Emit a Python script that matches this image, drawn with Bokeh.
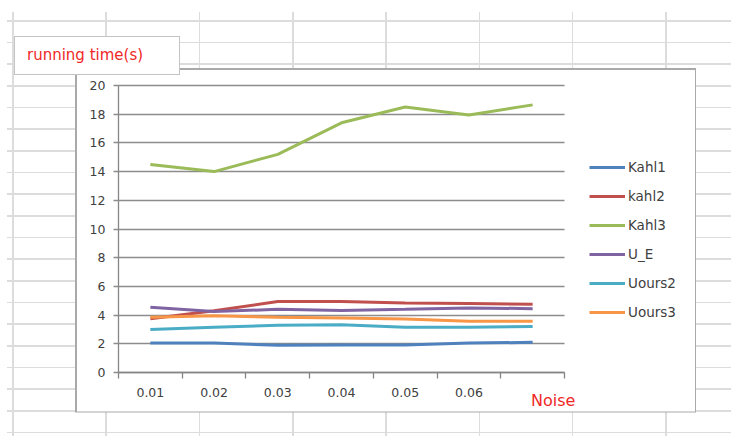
from bokeh.plotting import figure
from bokeh.models import Range1d, FixedTicker, LinearAxis, Legend, LegendItem
from bokeh.embed import file_html
from bokeh.resources import INLINE

# ---------------- data ----------------
noise_labels = ["0.01", "0.02", "0.03", "0.04", "0.05", "0.06"]
x_idx = [0, 1, 2, 3, 4, 5, 6]
kahl1 = [2.05, 2.05, 1.9, 1.92, 1.92, 2.05, 2.1]
kahl2 = [3.75, 4.3, 4.95, 4.95, 4.85, 4.8, 4.75]
kahl3 = [14.5, 14.0, 15.2, 17.4, 18.5, 17.95, 18.65]
u_e = [4.55, 4.25, 4.4, 4.32, 4.4, 4.5, 4.45]
uours2 = [3.0, 3.15, 3.3, 3.32, 3.16, 3.16, 3.2]
uours3 = [3.85, 3.95, 3.85, 3.8, 3.72, 3.58, 3.58]
series_names = ["Kahl1", "kahl2", "Kahl3", "U_E", "Uours2", "Uours3"]
series_values = [kahl1, kahl2, kahl3, u_e, uours2, uours3]
series_colors = ["#4F81BD", "#C0504D", "#9BBB59", "#8064A2", "#4BACC6", "#F79646"]
y_ticks = [0, 2, 4, 6, 8, 10, 12, 14, 16, 18, 20]
title_text = "running time(s)"
xlabel_text = "Noise"

# ---------------- layout (canvas px, top-left origin) ----------------
W, H = 731, 436
PL, PR, PT, PB = 118, 564, 85, 372    # plot area (axes box) inside the canvas
FONT = "DejaVu Sans"
n_cat = len(x_idx)
px_x = (PR - PL) / n_cat              # px per category
px_y = (PB - PT) / (y_ticks[-1] - y_ticks[0])
x_lo, x_hi = -0.5, n_cat - 0.5
# the frame is the whole canvas; ranges chosen so the axes box lands at PL..PR, PT..PB
x_range = Range1d(x_lo - PL / px_x, x_hi + (W - PR) / px_x)
y_range = Range1d(y_ticks[0] - (H - PB) / px_y, y_ticks[-1] + PT / px_y)

# spreadsheet look (cell grid, chart box, title box) as CSS background layers
bg_layers = [
    "linear-gradient(#ffffff,#ffffff) 15px 37px / 164px 37px no-repeat",
    "linear-gradient(#c4c4c4,#c4c4c4) 14px 36px / 166px 39px no-repeat",
    "linear-gradient(#ffffff,#ffffff) 76.5px 69.5px / 618px 341.5px no-repeat",
    "linear-gradient(#a9a9a9,#a9a9a9) 75px 68px / 621px 344.5px no-repeat",
    "repeating-linear-gradient(to bottom, #dcdcdc 0px, #dcdcdc 1.6px, transparent 1.6px, transparent 21.67px) 7px 20px / 724px 416px no-repeat",
    "repeating-linear-gradient(to right, #dcdcdc 0px, #dcdcdc 1.6px, transparent 1.6px, transparent 93.3px) 12px 12px / 719px 424px no-repeat",
    "#ffffff",
]

p = figure(width=W, height=H, output_backend="svg", toolbar_location=None,
           x_range=x_range, y_range=y_range,
           x_axis_type=None, y_axis_type=None,
           min_border=0, min_border_left=0, min_border_right=0,
           min_border_top=0, min_border_bottom=0)
p.styles = {"background": ", ".join(bg_layers)}
p.outline_line_color = None
p.background_fill_color = None
p.border_fill_color = None
p.xgrid.visible = False
p.ygrid.visible = False

# ---------------- axes (pinned with fixed_location) ----------------
xaxis = LinearAxis(ticker=FixedTicker(ticks=list(range(len(noise_labels))),
                                      minor_ticks=[i - 0.5 for i in range(n_cat + 1)]),
                   major_label_overrides={i: lab for i, lab in enumerate(noise_labels)},
                   fixed_location=y_ticks[0], bounds=(x_lo, x_hi))
xaxis.major_tick_out = 0
xaxis.major_tick_in = 0
xaxis.minor_tick_out = 6
xaxis.minor_tick_in = 0
xaxis.minor_tick_line_color = "#868686"
xaxis.minor_tick_line_width = 1.3
xaxis.axis_line_color = "#868686"
xaxis.axis_line_width = 1.3
xaxis.major_label_standoff = 9
xaxis.major_label_text_font = FONT
xaxis.major_label_text_font_size = "12.5px"
xaxis.major_label_text_color = "#404040"
p.add_layout(xaxis, "below")

# y axis: outward ticks of 5px, inward ticks across the plot act as gridlines
yaxis = LinearAxis(ticker=FixedTicker(ticks=y_ticks), fixed_location=x_lo,
                   bounds=(y_ticks[0], y_ticks[-1]), level="underlay")
yaxis.major_tick_out = 5
yaxis.major_tick_in = PR - PL
yaxis.minor_tick_line_color = None
yaxis.major_tick_line_color = "#8c8c8c"
yaxis.major_tick_line_width = 1.3
yaxis.axis_line_color = "#868686"
yaxis.axis_line_width = 1.3
yaxis.major_label_standoff = 8
yaxis.major_label_text_font = FONT
yaxis.major_label_text_font_size = "12.5px"
yaxis.major_label_text_color = "#404040"
p.add_layout(yaxis, "left")

# ---------------- series ----------------
items = []
for name, vals, col in zip(series_names, series_values, series_colors):
    r = p.line(x_idx, vals, line_color=col, line_width=3)
    items.append(LegendItem(label=name, renderers=[r]))

# legend: location = bottom-left corner, measured from the canvas bottom-left
legend = Legend(items=items, location=(589, H - 322), padding=0, margin=0,
                spacing=9, glyph_height=20, glyph_width=36, label_height=20,
                label_standoff=3, border_line_color=None,
                background_fill_alpha=0,
                label_text_font=FONT, label_text_font_size="13.5px",
                label_text_color="#404040")
p.add_layout(legend)

# free texts as glyph-less legend entries
blank = p.line(x=[], y=[], line_alpha=0)


def free_text(text, left, center_y, size, color):
    lg = Legend(items=[LegendItem(label=text, renderers=[blank])],
                location=(left, H - (center_y + 10)),
                padding=0, margin=0, spacing=0,
                glyph_height=20, glyph_width=0, label_height=20,
                label_standoff=0, border_line_color=None,
                background_fill_alpha=0, label_text_font=FONT,
                label_text_font_size=size, label_text_color=color)
    p.add_layout(lg)


free_text(title_text, 27, 55, "15px", "#f02828")
free_text(xlabel_text, 531, 400, "16px", "#f02828")

open("out.html", "w").write(file_html(p, INLINE))
